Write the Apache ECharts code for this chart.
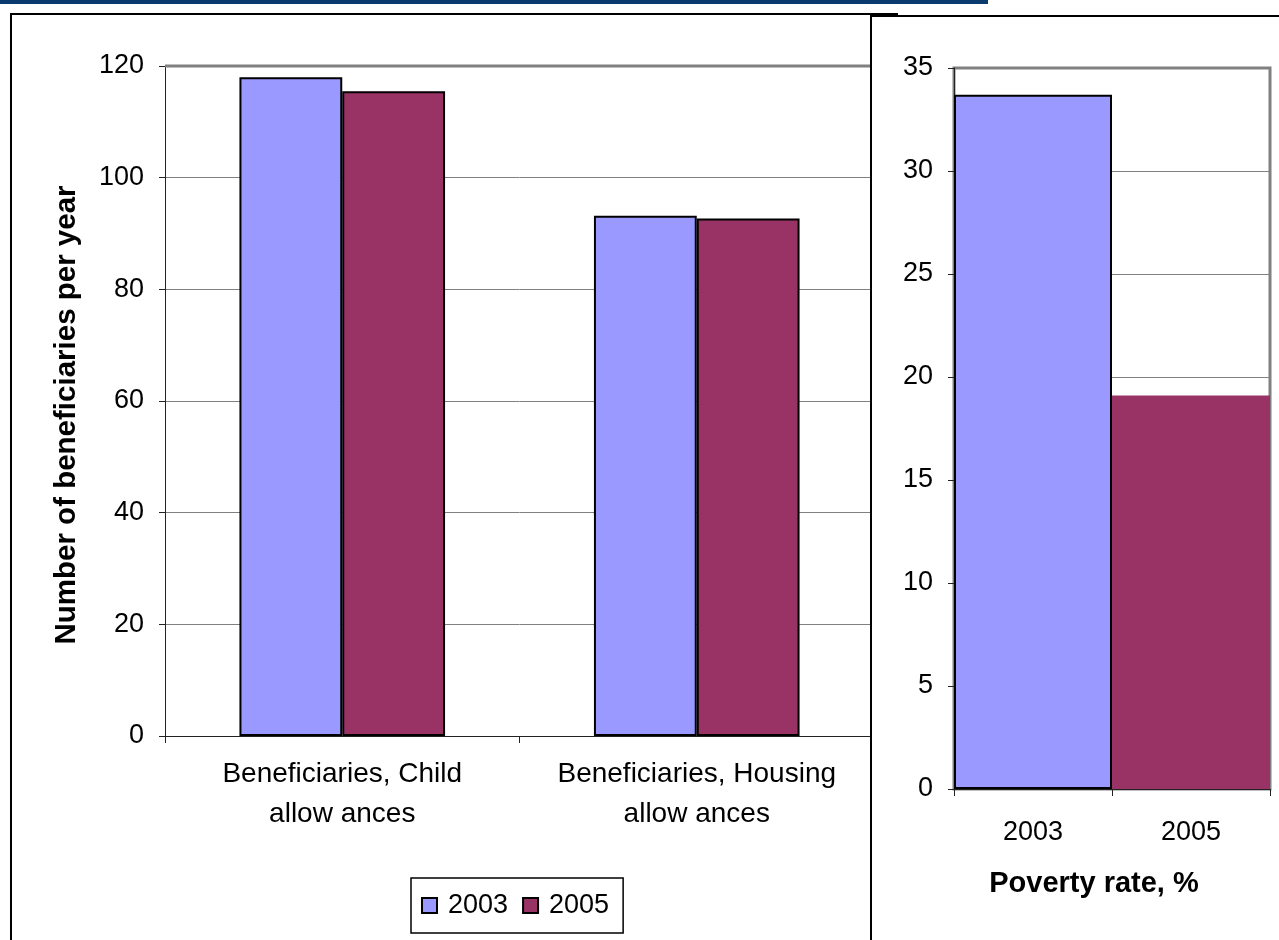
<!DOCTYPE html>
<html><head><meta charset="utf-8">
<script src="https://cdn.jsdelivr.net/npm/echarts@6/dist/echarts.min.js"></script>
<style>
html,body{margin:0;padding:0;background:#fff;width:1279px;height:940px;overflow:hidden;font-family:"Liberation Sans",Arial,sans-serif;}
#topbar{position:absolute;left:0;top:0;width:988px;height:4px;background:#0b3a6e;}
#leftFrame{position:absolute;left:10px;top:13px;width:888px;height:960px;border:2px solid #000;box-sizing:border-box;}
#left{position:absolute;left:12px;top:15px;width:884px;height:925px;}
#rightFrame{position:absolute;left:870px;top:15px;width:440px;height:960px;border:2px solid #000;box-sizing:border-box;background:#fff;}
#right{position:absolute;left:872px;top:17px;width:407px;height:923px;}
</style></head>
<body>
<div id="topbar"></div>
<div id="leftFrame"></div>
<div id="left"></div>
<div id="rightFrame"></div>
<div id="right"></div>
<script>
const leftCategories = ['Beneficiaries, Child\nallow ances', 'Beneficiaries, Housing\nallow ances'];
const seriesNames = ['2003', '2005'];
const values2003 = [118.0, 93.2];
const values2005 = [115.5, 92.7];
const leftTicks = {min: 0, max: 120, interval: 20};

const rightCategories = ['2003', '2005'];
const povertyRate = [33.7, 19.1];
const rightTicks = {min: 0, max: 35, interval: 5};

const C2003 = '#9999ff', C2005 = '#993366';
const FONT = '"Liberation Sans", Arial, sans-serif';

const left = echarts.init(document.getElementById('left'));
left.setOption({
  animation: false,
  textStyle: {fontFamily: FONT},
  grid: {left: 153, top: 51, width: 709, height: 670},
  legend: {
    left: 399, top: 863, padding: [14, 14, 14, 10],
    borderColor: '#000', borderWidth: 1.5,
    icon: 'rect', itemWidth: 15, itemHeight: 15, itemGap: 14,
    textStyle: {fontSize: 27, color: '#000', fontFamily: FONT, padding: [0, 0, 0, 6]},
    itemStyle: {borderColor: '#000', borderWidth: 2},
    data: seriesNames
  },
  xAxis: {
    type: 'category', data: leftCategories,
    axisLine: {lineStyle: {color: '#222', width: 1}},
    axisTick: {show: true, length: 7, lineStyle: {color: '#222'}},
    axisLabel: {interval: 0, hideOverlap: false, fontSize: 28, color: '#000', lineHeight: 40, margin: 18, fontFamily: FONT}
  },
  yAxis: {
    type: 'value', min: leftTicks.min, max: leftTicks.max, interval: leftTicks.interval,
    name: 'Number of beneficiaries per year', nameLocation: 'middle', nameGap: 83,
    nameTextStyle: {fontSize: 29.5, fontWeight: 'bold', color: '#000', fontFamily: FONT, padding: [0, 28, 0, 0]},
    axisLine: {show: true, lineStyle: {color: '#222', width: 1}},
    axisTick: {show: true, length: 6, lineStyle: {color: '#222'}},
    axisLabel: {fontSize: 27, color: '#000', margin: 21, fontFamily: FONT},
    splitLine: {lineStyle: {color: '#808080', width: 1}}
  },
  series: [
    {name: seriesNames[0], type: 'bar', data: values2003, barGap: '0%', barCategoryGap: '42%',
     itemStyle: {color: C2003, borderColor: '#000', borderWidth: 2}},
    {name: seriesNames[1], type: 'bar', data: values2005,
     itemStyle: {color: C2005, borderColor: '#000', borderWidth: 2}}
  ]
});
// plot area top border (thicker gray)
(function(){
  const y = left.convertToPixel({yAxisIndex: 0}, leftTicks.max);
  const x0 = left.convertToPixel({xAxisIndex: 0}, 0) - 709/4;
  left.setOption({graphic: [{type: 'line', z: 5, shape: {x1: x0, y1: y, x2: x0 + 709, y2: y}, style: {stroke: '#808080', lineWidth: 3}}]});
})();

const right = echarts.init(document.getElementById('right'));
right.setOption({
  animation: false,
  textStyle: {fontFamily: FONT},
  grid: {left: 82, top: 51, width: 316, height: 721, show: true, borderColor: '#808080', borderWidth: 3, backgroundColor: 'transparent'},
  xAxis: {
    type: 'category', data: rightCategories,
    name: 'Poverty rate, %', nameLocation: 'middle', nameGap: 80,
    nameTextStyle: {fontSize: 29, fontWeight: 'bold', color: '#000', fontFamily: FONT, padding: [0, 36, 0, 0]},
    axisLine: {lineStyle: {color: '#222', width: 1}},
    axisTick: {show: true, length: 7, lineStyle: {color: '#222'}},
    axisLabel: {interval: 0, fontSize: 27, color: '#000', margin: 30, fontFamily: FONT}
  },
  yAxis: {
    type: 'value', min: rightTicks.min, max: rightTicks.max, interval: rightTicks.interval,
    axisLine: {show: true, lineStyle: {color: '#222', width: 1}},
    axisTick: {show: true, length: 6, lineStyle: {color: '#222'}},
    axisLabel: {fontSize: 27, color: '#000', margin: 21, fontFamily: FONT},
    splitLine: {lineStyle: {color: '#808080', width: 1}}
  },
  series: [{
    type: 'bar', barWidth: '100%', z: 3,
    data: povertyRate.map((v, i) => ({
      value: v,
      itemStyle: i === 0 ? {color: C2003, borderColor: '#000', borderWidth: 2} : {color: C2005, borderWidth: 0}
    }))
  }]
});
</script>
</body></html>
